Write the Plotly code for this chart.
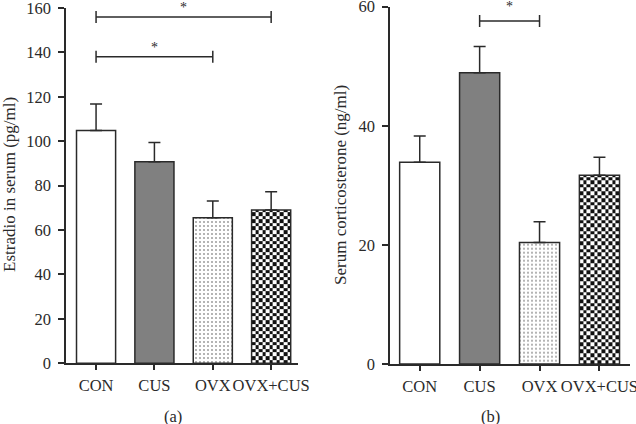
import numpy as np
import plotly.graph_objects as go

# ---------------- data ----------------
groups = ["CON", "CUS", "OVX", "OVX+CUS"]
estradiol_mean = [104.8, 90.8, 65.6, 69.0]
estradiol_sem = [12.0, 8.6, 7.5, 8.2]
cort_mean = [33.9, 48.9, 20.4, 31.7]
cort_sem = [4.4, 4.4, 3.5, 3.0]
# significance comparisons: (group index a, group index b, bracket height)
estradiol_sig = [(0, 3, 156), (0, 2, 138)]
cort_sig = [(1, 2, 57.6)]
y1_ticks = [0, 20, 40, 60, 80, 100, 120, 140, 160]
y2_ticks = [0, 20, 40, 60]
y1_title = "Estradio in serum (pg/ml)"
y2_title = "Serum corticosterone (ng/ml)"
panel_labels = ["(a)", "(b)"]

# ---------------- styling ----------------
W, H = 636, 424
FONT = "Liberation Serif"
DARK = "#2a2a2a"
fills = ["white", "#808080", "white", "rgba(0,0,0,0)"]
patterns = ["", "", ".", ""]
BAR_W = 0.67
CHECK_PX = 3.6

# panel geometry (pixels)
panels = [
    dict(x0=66, x1=298, ytop=8, ybot=363.3, xr=[-0.515, 3.46], ymax=160, star_shift=0),
    dict(x0=390, x1=630, ytop=6.7, ybot=364, xr=[-0.496, 3.51], ymax=60, star_shift=5),
]

fig = go.Figure()
shapes = []
annotations = []

series = [(estradiol_mean, estradiol_sem, estradiol_sig, y1_ticks),
          (cort_mean, cort_sem, cort_sig, y2_ticks)]

for k, (means, sems, sigs, ticks) in enumerate(series):
    p = panels[k]
    xa = "x" if k == 0 else "x2"
    ya = "y" if k == 0 else "y2"
    px_per_x = (p["x1"] - p["x0"]) / (p["xr"][1] - p["xr"][0])
    px_per_y = (p["ybot"] - p["ytop"]) / p["ymax"]

    # checkerboard fill for last group
    ci = 3
    ncols = int(round(BAR_W * px_per_x / CHECK_PX))
    xe = np.linspace(ci - BAR_W / 2, ci + BAR_W / 2, ncols + 1)
    dy = CHECK_PX / px_per_y
    ye = list(np.arange(0, means[ci], dy))
    ye.append(means[ci])
    nrows = len(ye) - 1
    z = [[(i + j) % 2 for j in range(ncols)] for i in range(nrows)]
    fig.add_trace(go.Heatmap(x=xe, y=ye, z=z, colorscale=[[0, "white"], [1, "#111111"]],
                             zmin=0, zmax=1, showscale=False, hoverinfo="skip",
                             xaxis=xa, yaxis=ya))

    fig.add_trace(go.Bar(
        x=list(range(len(groups))), y=means, width=BAR_W, xaxis=xa, yaxis=ya,
        marker=dict(color=fills, line=dict(color=DARK, width=1.5),
                    pattern=dict(shape=patterns, fgcolor="#222222", bgcolor="white",
                                 fillmode="overlay", size=4, solidity=0.22)),
        error_y=dict(type="data", array=sems, arrayminus=[0] * len(sems), symmetric=False,
                     color=DARK, thickness=1.5, width=6),
        showlegend=False, hoverinfo="skip"))

    end = 6 / px_per_y
    for a, b, h in sigs:
        shapes.append(dict(type="line", xref=xa, yref=ya, x0=a, x1=b, y0=h, y1=h,
                           line=dict(color=DARK, width=1.5)))
        for c in (a, b):
            shapes.append(dict(type="line", xref=xa, yref=ya, x0=c, x1=c, y0=h - end, y1=h + end,
                               line=dict(color=DARK, width=1.5)))
        annotations.append(dict(x=(a + b) / 2, y=h, xref=xa, yref=ya, text="*", showarrow=False,
                                yanchor="bottom", xanchor="center", yshift=p["star_shift"],
                                font=dict(family=FONT, size=14, color=DARK)))

layout_axes = {}
for k, p in enumerate(panels):
    sx = "" if k == 0 else "2"
    layout_axes["xaxis" + sx] = dict(
        domain=[p["x0"] / W, p["x1"] / W], range=p["xr"], anchor="y" + sx,
        tickvals=list(range(len(groups))), ticktext=groups, tickangle=0,
        showline=True, linecolor=DARK, automargin=False, ticklabeloverflow="allow",
        linewidth=1.5, ticks="outside", ticklen=5, tickwidth=1.5, tickcolor=DARK,
        showgrid=False, zeroline=False, ticklabelstandoff=1,
        tickfont=dict(family=FONT, size=16.5, color=DARK))
    layout_axes["yaxis" + sx] = dict(
        domain=[(H - p["ybot"]) / H, (H - p["ytop"]) / H], range=[0, p["ymax"]], anchor="x" + sx,
        tickvals=series[k][3], showline=True, linecolor=DARK, linewidth=1.5, automargin=False,
        ticklabeloverflow="allow",
        ticks="outside", ticklen=6, tickwidth=1.5, tickcolor=DARK, showgrid=False,
        zeroline=False, ticklabelstandoff=4,
        tickfont=dict(family=FONT, size=16.5, color=DARK))

annotations += [
    dict(x=9 / W, y=1 - 185 / H, xref="paper", yref="paper", text=y1_title, textangle=-90,
         showarrow=False, xanchor="center", yanchor="middle", font=dict(family=FONT, size=17, color=DARK)),
    dict(x=340 / W, y=1 - 185 / H, xref="paper", yref="paper", text=y2_title, textangle=-90,
         showarrow=False, xanchor="center", yanchor="middle", font=dict(family=FONT, size=17, color=DARK)),
    dict(x=173 / W, y=1 - 416 / H, xref="paper", yref="paper", text=panel_labels[0],
         showarrow=False, xanchor="center", yanchor="middle", font=dict(family=FONT, size=16.5, color=DARK)),
    dict(x=490 / W, y=1 - 416 / H, xref="paper", yref="paper", text=panel_labels[1],
         showarrow=False, xanchor="center", yanchor="middle", font=dict(family=FONT, size=16.5, color=DARK)),
]

fig.update_layout(template="none", width=W, height=H, margin=dict(l=0, r=0, t=0, b=0, pad=0),
                  paper_bgcolor="white", plot_bgcolor="white", showlegend=False,
                  shapes=shapes, annotations=annotations, **layout_axes)

fig.write_html("out.html", config={"displayModeBar": False},
               post_script="document.body.style.margin='0px';")
